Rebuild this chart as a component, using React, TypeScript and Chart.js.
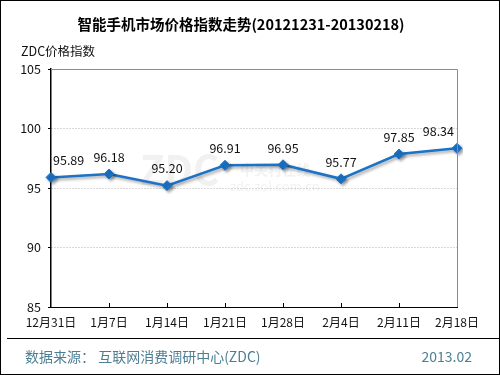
import React, { useEffect, useRef } from "react";
import { Chart, registerables } from "chart.js";

Chart.register(...registerables);

const categories = ["12月31日", "1月7日", "1月14日", "1月21日", "1月28日", "2月4日", "2月11日", "2月18日"];
const indexValues = [95.89, 96.18, 95.2, 96.91, 96.95, 95.77, 97.85, 98.34];
const yTicks = [85, 90, 95, 100, 105];

const FONT = '"Noto Sans CJK SC", "Noto Sans", sans-serif';
const LINE_COLOR = "#1b72c6";

const decorPlugin = {
  id: "decor",
  afterDraw(chart: any) {
    const { ctx, chartArea } = chart;
    const { left, right, top, bottom } = chartArea;
    const xs = chart.scales.x;
    ctx.save();
    ctx.strokeStyle = "#8c8c8c";
    ctx.lineWidth = 1;
    ctx.setLineDash([]);
    ctx.beginPath();
    ctx.moveTo(left, Math.round(top) + 0.5);
    ctx.lineTo(Math.round(right) + 0.5, Math.round(top) + 0.5);
    ctx.lineTo(Math.round(right) + 0.5, bottom);
    ctx.stroke();
    ctx.strokeStyle = "#000";
    ctx.beginPath();
    for (let i = 1; i < categories.length - 1; i++) {
      const x = Math.round(xs.getPixelForValue(i)) + 0.5;
      ctx.moveTo(x, bottom);
      ctx.lineTo(x, bottom - 4);
    }
    ctx.stroke();
    const meta = chart.getDatasetMeta(0);
    ctx.font = `12.5px ${FONT}`;
    ctx.fillStyle = "#111";
    ctx.textBaseline = "middle";
    ctx.textAlign = "left";
    meta.data.forEach((pt: any, i: number) => {
      const txt = indexValues[i].toFixed(2);
      const w = ctx.measureText(txt).width;
      let x = pt.x - w / 2;
      if (x < left + 2) x = left + 2;
      if (x + w > right - 3) x = right - 3 - w;
      ctx.fillText(txt, x, pt.y - 17);
    });
    ctx.restore();
  },
};

const watermarkPlugin = {
  id: "watermark",
  beforeDatasetsDraw(chart: any) {
    const { ctx } = chart;
    ctx.save();
    ctx.globalAlpha = 0.12;
    ctx.fillStyle = "#888";
    ctx.font = `bold 40px ${FONT}`;
    ctx.textBaseline = "alphabetic";
    ctx.fillText("ZDC", 140, 185);
    ctx.font = `bold 14px ${FONT}`;
    ctx.fillText("中关村在线", 240, 175);
    ctx.font = `13px ${FONT}`;
    ctx.fillText("zdc.zol.com.cn", 230, 191);
    ctx.restore();
  },
};

const shadowPlugin = {
  id: "lineShadow",
  beforeDatasetDraw(chart: any) {
    const ctx = chart.ctx;
    ctx.save();
    ctx.shadowColor = "rgba(0,0,0,0.35)";
    ctx.shadowBlur = 3;
    ctx.shadowOffsetX = 2;
    ctx.shadowOffsetY = 2;
  },
  afterDatasetDraw(chart: any) {
    chart.ctx.restore();
  },
};

export default function App() {
  const ref = useRef<HTMLCanvasElement | null>(null);

  useEffect(() => {
    document.body.style.margin = "0";
    if (!ref.current) return;
    const chart = new Chart(ref.current, {
      type: "line",
      data: {
        labels: categories,
        datasets: [
          {
            data: indexValues,
            borderColor: LINE_COLOR,
            backgroundColor: LINE_COLOR,
            borderWidth: 2.5,
            pointStyle: "rectRot",
            pointRadius: 5,
            pointBorderWidth: 1,
            pointBackgroundColor: LINE_COLOR,
            pointBorderColor: LINE_COLOR,
            tension: 0,
          },
        ],
      },
      options: {
        responsive: false,
        animation: false,
        layout: { padding: { top: 69, right: 43, bottom: 0, left: 0 } },
        plugins: {
          legend: { display: false },
          title: { display: false },
          tooltip: { enabled: false },
        },
        scales: {
          x: {
            type: "category",
            offset: false,
            grid: { display: false, drawTicks: false },
            border: { display: true, color: "#000", width: 1 },
            ticks: {
              color: "#111",
              font: { family: FONT, size: 12 },
              padding: 8,
              maxRotation: 0,
              autoSkip: false,
            },
            afterFit(scale: any) {
              scale.height = 68;
            },
          },
          y: {
            min: 85,
            max: 105,
            afterBuildTicks(scale: any) {
              scale.ticks = yTicks.map((v) => ({ value: v }));
            },
            grid: {
              color: "#b0b0b0",
              lineWidth: 1,
              tickLength: 3,
              tickColor: "#000",
              tickBorderDash: [],
            },
            border: { display: true, color: "#000", width: 1.5, dash: [1, 2] },
            ticks: {
              color: "#111",
              font: { family: FONT, size: 12.5 },
              padding: 7,
            },
            afterFit(scale: any) {
              scale.width = 51;
            },
          },
        },
      },
      plugins: [watermarkPlugin, shadowPlugin, decorPlugin],
    });
    return () => chart.destroy();
  }, []);

  return (
    <div style={{ position: "absolute", left: 0, top: 0, width: 500, height: 375, background: "#fff", overflow: "hidden", fontFamily: FONT }}>
      <canvas ref={ref} width={500} height={375} style={{ position: "absolute", left: 0, top: 0 }} />
      <div style={{ position: "absolute", left: 0, top: 0, width: 498, height: 373, border: "1px solid #000", pointerEvents: "none" }} />
      <div style={{ position: "absolute", left: 0, top: 14, width: 482, textAlign: "center", fontSize: 14.5, fontWeight: "bold", color: "#000", lineHeight: "20px" }}>
        智能手机市场价格指数走势(20121231-20130218)
      </div>
      <div style={{ position: "absolute", left: 21, top: 43, fontSize: 12.5, color: "#111", lineHeight: "16px" }}>
        ZDC价格指数
      </div>
      <div style={{ position: "absolute", left: 7, top: 338, width: 493, height: 1, background: "#000" }} />
      <div style={{ position: "absolute", left: 25, top: 346, fontSize: 14, color: "#4d7f94", lineHeight: "20px", whiteSpace: "pre" }}>
        {"数据来源： 互联网消费调研中心(ZDC)"}
      </div>
      <div style={{ position: "absolute", right: 28, top: 346, fontSize: 14, color: "#4d7f94", lineHeight: "20px" }}>
        2013.02
      </div>
    </div>
  );
}
